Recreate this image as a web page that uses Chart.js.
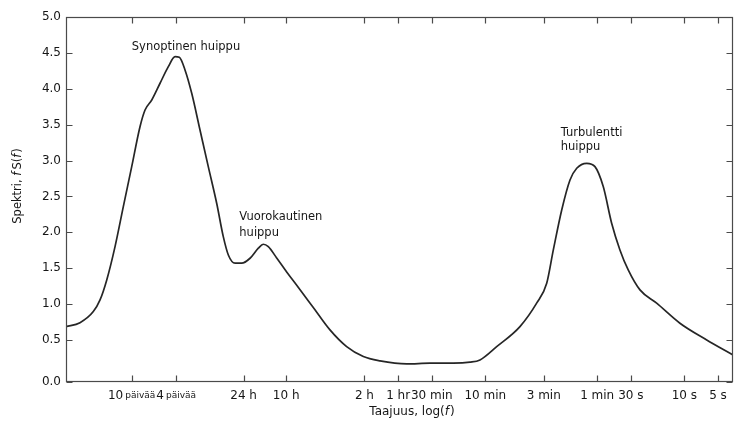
<!DOCTYPE html>
<html><head><meta charset="utf-8">
<script src="https://cdn.jsdelivr.net/npm/chart.js@4.4.1/dist/chart.umd.min.js"></script>
<style>html,body{margin:0;padding:0;background:#fff;}#wrap{width:738px;height:427px;}</style>
</head><body><div id="wrap"><canvas id="c" width="738" height="427"></canvas></div>
<script>
// x = log10(frequency [Hz]), y = spectrum f S(f)
const logFreq = [-6.523,-6.398,-6.279,-6.219,-6.159,-6.085,-6.011,-5.936,-5.862,-5.817,-5.757,-5.683,-5.609,-5.549,-5.511,-5.460,-5.400,-5.326,-5.252,-5.177,-5.118,-5.073,-5.013,-4.954,-4.879,-4.805,-4.761,-4.716,-4.641,-4.540,-4.462,-4.314,-4.165,-4.016,-3.867,-3.718,-3.480,-3.272,-3.064,-2.914,-2.825,-2.676,-2.468,-2.319,-2.229,-2.170,-2.095,-2.021,-1.961,-1.872,-1.798,-1.724,-1.649,-1.575,-1.501,-1.396,-1.247,-1.039,-0.800,-0.565];
const spectrum = [0.687,0.742,0.896,1.058,1.337,1.801,2.358,2.915,3.472,3.705,3.844,4.077,4.308,4.447,4.439,4.262,3.937,3.426,2.915,2.405,1.940,1.685,1.570,1.570,1.639,1.779,1.834,1.801,1.643,1.423,1.262,0.953,0.641,0.408,0.269,0.209,0.167,0.177,0.177,0.191,0.223,0.408,0.687,1.013,1.291,1.755,2.312,2.730,2.893,2.962,2.915,2.637,2.127,1.755,1.476,1.198,1.013,0.734,0.501,0.292];
const tickPeriodsSec = [864000,345600,86400,36000,7200,3600,1800,600,180,60,30,10,5];
const tickLabels = ['10 päivää','4 päivää','24 h','10 h','2 h','1 hr','30 min','10 min','3 min','1 min','30 s','10 s','5 s'];
const yTickValues = [0,0.5,1,1.5,2,2.5,3,3.5,4,4.5,5];
const yMin = -0.085, yMax = 5;
const xMin = -6.523, xMax = -0.565;
const annotationTexts = ['Synoptinen huippu','Vuorokautinen','huippu','Turbulentti','huippu'];
const annotationX = [-5.451,-4.975,-4.975,-2.104,-2.104];
const annotationY = [4.586,2.219,1.996,3.380,3.185];
const annotationAlign = ['center','left','left','left','left'];

const FONT = '"DejaVu Sans", sans-serif';
const TXT = '#161616';

function drawRuns(ctx, runs, x, y, align){
  let w = 0;
  runs.forEach(r => { ctx.font = r.font; r.w = ctx.measureText(r.text).width + (r.gap||0); w += r.w; });
  let cx = align === 'center' ? x - w/2 : (align === 'right' ? x - w : x);
  ctx.textAlign = 'left'; ctx.textBaseline = 'middle';
  runs.forEach(r => { ctx.font = r.font; ctx.fillText(r.text, cx, y); cx += r.w; });
}

const framePlugin = {
  id: 'frame',
  afterDraw(chart){
    const {ctx, chartArea: a, scales: {x, y}} = chart;
    ctx.save();
    ctx.strokeStyle = '#4a4a4a'; ctx.lineWidth = 1.2;
    const L = Math.round(a.left)+0.5, R = Math.round(a.right)-0.5, T = Math.round(a.top)+0.5, B = Math.round(a.bottom)-0.5;
    ctx.strokeRect(L, T, R-L, B-T);
    const tl = 6;
    ctx.beginPath();
    x.ticks.forEach(t => {
      const px = Math.round(x.getPixelForValue(t.value))+0.5;
      ctx.moveTo(px, B); ctx.lineTo(px, B-tl);
      ctx.moveTo(px, T); ctx.lineTo(px, T+tl);
    });
    y.ticks.forEach(t => {
      const py = Math.round(y.getPixelForValue(t.value))+0.5;
      ctx.moveTo(L, py); ctx.lineTo(L+tl, py);
      ctx.moveTo(R, py); ctx.lineTo(R-tl, py);
    });
    ctx.stroke();
    ctx.fillStyle = TXT;
    // mixed-size day labels
    tickLabels.forEach((lab, i) => {
      if (lab.indexOf(' päivää') < 0) return;
      const px = x.getPixelForValue(-Math.log10(tickPeriodsSec[i]));
      const num = lab.split(' ')[0];
      drawRuns(ctx, [{text:num, font:'12px '+FONT, gap:2},{text:'päivää', font:'9px '+FONT}], px, 396, 'center');
    });
    // annotations
    annotationTexts.forEach((t, i) => {
      ctx.font = '11.5px ' + FONT;
      ctx.textAlign = annotationAlign[i]; ctx.textBaseline = 'middle';
      ctx.fillText(t, x.getPixelForValue(annotationX[i]), y.getPixelForValue(annotationY[i]));
    });
    // x title
    drawRuns(ctx, [{text:'Taajuus, log(', font:'12px '+FONT},{text:'f', font:'italic 12px '+FONT, gap:1},{text:')', font:'12px '+FONT}], 412, 412, 'center');
    // y title
    ctx.save();
    ctx.translate(18, 186); ctx.rotate(-Math.PI/2);
    drawRuns(ctx, [{text:'Spektri, ', font:'11.5px '+FONT},{text:'f', font:'italic 11.5px '+FONT, gap:2},{text:'S(', font:'11.5px '+FONT},{text:'f', font:'italic 11.5px '+FONT, gap:1},{text:')', font:'11.5px '+FONT}], 0, 0, 'center');
    ctx.restore();
    ctx.restore();
  }
};

new Chart(document.getElementById('c'), {
  type: 'line',
  data: {
    datasets: [{
      data: logFreq.map((v, i) => ({x: v, y: spectrum[i]})),
      borderColor: '#262626', borderWidth: 1.7, pointRadius: 0,
      fill: false, cubicInterpolationMode: 'monotone', tension: 0.4
    }]
  },
  options: {
    responsive: false, animation: false, devicePixelRatio: 1,
    layout: {padding: {top: 17, right: 5, left: 0, bottom: 0}},
    plugins: {legend: {display: false}, tooltip: {enabled: false}, title: {display: false}},
    scales: {
      x: {
        type: 'linear', min: xMin, max: xMax,
        grid: {display: false, drawTicks: false}, border: {display: false},
        afterBuildTicks: s => { s.ticks = tickPeriodsSec.map(p => ({value: -Math.log10(p)})); },
        afterFit: s => { s.height = 45; },
        ticks: {
          autoSkip: false, maxRotation: 0, minRotation: 0, padding: 7, color: TXT,
          font: {family: FONT, size: 12},
          callback: (v, i) => tickLabels[i].indexOf(' päivää') >= 0 ? '' : tickLabels[i]
        }
      },
      y: {
        type: 'linear', min: yMin, max: yMax,
        grid: {display: false, drawTicks: false}, border: {display: false},
        // the figure's "0.0" label sits on the bottom frame line
        afterBuildTicks: s => { s.ticks = yTickValues.map(v => ({value: v === 0 ? yMin : v})); },
        afterFit: s => { s.width = 66; },
        ticks: {padding: 5, color: TXT, font: {family: FONT, size: 12},
          callback: (v, i) => yTickValues[i].toFixed(1)}
      }
    }
  },
  plugins: [framePlugin]
});
</script>
</body></html>
